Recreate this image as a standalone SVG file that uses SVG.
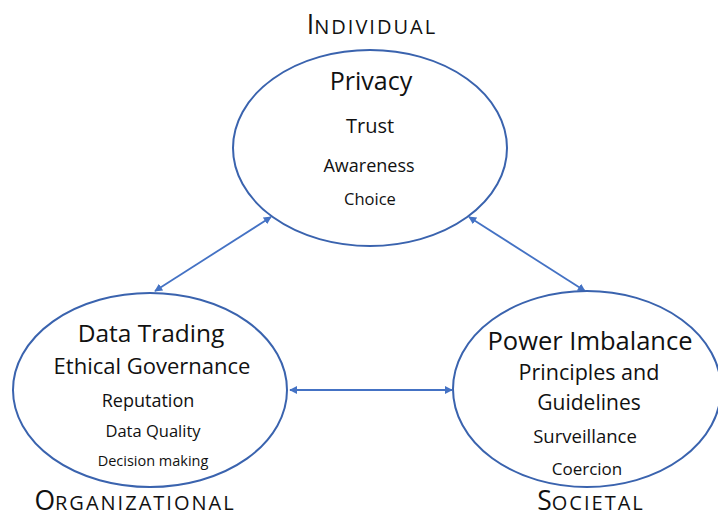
<svg xmlns="http://www.w3.org/2000/svg" width="718" height="519" viewBox="0 0 718 519">
  <defs>
    <marker id="head" viewBox="0 0 10 10" refX="9" refY="5" markerWidth="8" markerHeight="8" orient="auto-start-reverse" markerUnits="userSpaceOnUse">
      <path d="M0,0 L10,5 L0,10 Z" fill="#4472C4"/>
    </marker>
  </defs>
  <style>
    .node { fill: #ffffff; stroke: #3A63AE; stroke-width: 2; }
    .link { stroke: #4472C4; stroke-width: 1.8; fill: none; marker-start: url(#head); marker-end: url(#head); }
    text { font-family: "Open Sans", "Noto Sans", sans-serif; fill: #111111; text-anchor: middle; }
    .cap { font-size: 26.5px; }
    .sc { font-size: 20px; letter-spacing: 2px; }
  </style>
  <rect width="718" height="519" fill="#ffffff"/>

  <!-- connectors -->
  <g id="connectors">
    <line class="link" x1="155" y1="291" x2="271" y2="217"/>
    <line class="link" x1="469" y1="217" x2="585" y2="291"/>
    <line class="link" x1="290" y1="390" x2="452" y2="390"/>
  </g>

  <!-- individual level -->
  <g id="individual">
    <ellipse class="node" cx="370" cy="148" rx="137" ry="98"/>
    <text x="371" y="90" font-size="25">Privacy</text>
    <text x="370" y="133" font-size="20">Trust</text>
    <text x="369" y="172" font-size="18">Awareness</text>
    <text x="370" y="205" font-size="16.5">Choice</text>
    <text x="371" y="34"><tspan class="cap">I</tspan><tspan class="sc">NDIVIDUA<tspan letter-spacing="0">L</tspan></tspan></text>
  </g>

  <!-- organizational level -->
  <g id="organizational">
    <ellipse class="node" cx="150" cy="390" rx="137" ry="97"/>
    <text x="151" y="342" font-size="24.5">Data Trading</text>
    <text x="152" y="374" font-size="22">Ethical Governance</text>
    <text x="148" y="407" font-size="18">Reputation</text>
    <text x="153" y="437" font-size="16.5">Data Quality</text>
    <text x="153" y="466" font-size="14.5">Decision making</text>
    <text x="134" y="510"><tspan class="cap">O</tspan><tspan class="sc">RGANIZATIONA<tspan letter-spacing="0">L</tspan></tspan></text>
  </g>

  <!-- societal level -->
  <g id="societal">
    <ellipse class="node" cx="587" cy="389" rx="134" ry="98"/>
    <text x="590" y="350" font-size="25.5">Power Imbalance</text>
    <text x="589" y="380" font-size="21.5">Principles and</text>
    <text x="589" y="410" font-size="21">Guidelines</text>
    <text x="585" y="443" font-size="18.5">Surveillance</text>
    <text x="587" y="475" font-size="17">Coercion</text>
    <text x="590" y="510"><tspan class="cap">S</tspan><tspan class="sc">OCIETA<tspan letter-spacing="0">L</tspan></tspan></text>
  </g>
</svg>
